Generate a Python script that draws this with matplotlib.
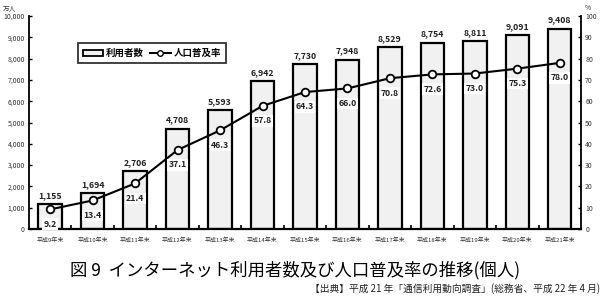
import matplotlib
matplotlib.use("Agg")
import matplotlib.pyplot as plt
import numpy as np
from matplotlib.lines import Line2D
from matplotlib.patches import Patch

plt.rcParams['font.family'] = ['Noto Sans CJK JP', 'DejaVu Sans']

years = ["平成9年末", "平成10年末", "平成11年末", "平成12年末", "平成13年末", "平成14年末",
         "平成15年末", "平成16年末", "平成17年末", "平成18年末", "平成19年末", "平成20年末", "平成21年末"]
users = [1155, 1694, 2706, 4708, 5593, 6942, 7730, 7948, 8529, 8754, 8811, 9091, 9408]
rate = [9.2, 13.4, 21.4, 37.1, 46.3, 57.8, 64.3, 66.0, 70.8, 72.6, 73.0, 75.3, 78.0]
left_ticks = list(range(0, 10001, 1000))
right_ticks = list(range(0, 101, 10))

fig = plt.figure(figsize=(6.03, 2.97), dpi=100)
ax = fig.add_axes([0.048, 0.229, 0.9155, 0.717])
x = np.arange(len(years))
bars = ax.bar(x, users, width=0.55, color='#f1f1f1', edgecolor='black', linewidth=1.6, zorder=2)
ax.set_xlim(-0.5, len(years) - 0.5)
ax.set_ylim(0, 10000)
ax.set_yticks(left_ticks)
ax.set_yticklabels([f"{v:,}" for v in left_ticks], fontsize=5, color='#333333')
ax.set_xticks(x)
ax.set_xticklabels(years, fontsize=4.3, color='#333333')
ax.set_xticks(np.arange(0.5, len(years) - 1, 1), minor=True)
ax.tick_params(axis='x', which='major', length=0, pad=6)
ax.tick_params(axis='x', which='minor', direction='in', length=3, width=1.2)
ax.tick_params(axis='y', direction='in', length=2.5, width=1, pad=3)
for s in ['top', 'right']:
    ax.spines[s].set_visible(False)
ax.spines['left'].set_linewidth(1.3)
ax.spines['bottom'].set_linewidth(1.6)

for xi, v in zip(x, users):
    ax.annotate(f"{v:,}", (xi, v), xytext=(0, 3), textcoords='offset points',
                ha='center', va='bottom', fontsize=6.3, fontweight='bold', color='#222222')

ax2 = ax.twinx()
ax2.set_ylim(0, 100)
ax2.set_yticks(right_ticks)
ax2.set_yticklabels([str(v) for v in right_ticks], fontsize=5, color='#333333')
ax2.tick_params(axis='y', direction='in', length=2.5, width=1, pad=3)
for s in ['top', 'left', 'bottom']:
    ax2.spines[s].set_visible(False)
ax2.spines['right'].set_linewidth(1.3)
ax2.plot(x, rate, color='black', linewidth=1.5, marker='o', markersize=5.5,
         markerfacecolor='white', markeredgecolor='black', markeredgewidth=1.3, zorder=3)
for xi, v in zip(x, rate):
    ax2.annotate(f"{v:.1f}", (xi, v), xytext=(0, -7.5), textcoords='offset points',
                 ha='center', va='top', fontsize=6.3, fontweight='bold', color='#222222',
                 bbox=dict(boxstyle='square,pad=0.15', fc='white', ec='none'))

handles = [Patch(facecolor='#f1f1f1', edgecolor='black', linewidth=1.3),
           Line2D([0], [0], color='black', linewidth=1.5, marker='o', markersize=4,
                  markerfacecolor='white', markeredgecolor='black')]
leg = ax2.legend(handles, ["利用者数", "人口普及率"], loc='upper left',
                 bbox_to_anchor=(0.08, 0.895), ncol=2, fontsize=6.8, frameon=True,
                 fancybox=False, edgecolor='black', handlelength=2.2, handleheight=0.6,
                 columnspacing=0.6, handletextpad=0.3, borderpad=0.5)
leg.get_frame().set_linewidth(1.3)
for t in leg.get_texts():
    t.set_fontweight('bold')

fig.text(0.005, 0.985, "万人", fontsize=4.8, ha='left', va='top', color='#333333')
fig.text(0.97, 0.985, "%", fontsize=4.8, ha='left', va='top', color='#333333')
fig.text(0.49, 0.09, "図 9  インターネット利用者数及び人口普及率の推移(個人)", fontsize=12.5,
         ha='center', va='center', color='black')
fig.text(0.995, 0.03, "【出典】平成 21 年「通信利用動向調査」(総務省、平成 22 年 4 月)", fontsize=7.0,
         ha='right', va='center', color='#222222')

fig.savefig("out.png", dpi=100)
